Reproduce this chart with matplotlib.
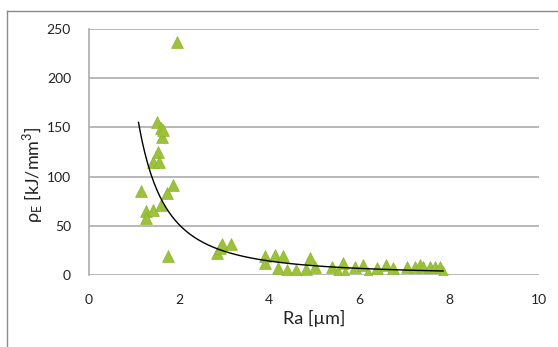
import numpy as np
import matplotlib
matplotlib.use("Agg")
import matplotlib.pyplot as plt
from matplotlib.lines import Line2D

ra = [1.15, 1.27, 1.27, 1.43, 1.43, 1.50, 1.53, 1.56, 1.59, 1.61, 1.63, 1.64, 1.73, 1.75, 1.86, 1.96,
      2.84, 2.90, 2.95, 3.16,
      3.91, 3.91, 4.13, 4.21, 4.30, 4.39, 4.61, 4.82, 4.91, 5.02,
      5.39, 5.54, 5.65, 5.69, 5.90, 6.08, 6.20, 6.39, 6.61, 6.76, 7.06, 7.24, 7.36, 7.43, 7.58, 7.69, 7.80, 7.87]
rho = [85, 65, 58, 66, 115, 155, 125, 115, 71, 149, 140, 147, 83, 19, 91, 237,
       22, 27, 32, 32,
       19, 12, 20, 7, 19, 5, 5, 6, 17, 8,
       8, 3, 12, 2, 8, 10, 2, 7, 10, 7, 8, 8, 10, 8, 8, 8, 8, 3]

trend_a = 185.0
trend_b = -1.85
trend_x_range = (1.10, 7.87)

xticks = [0, 2, 4, 6, 8, 10]
yticks = [0, 50, 100, 150, 200, 250]

plt.rcParams['font.family'] = ['Lato', 'DejaVu Sans']

W, H = 558, 347
fig = plt.figure(figsize=(W / 100, H / 100), dpi=100)
ax = fig.add_axes([89 / W, 1 - 275 / H, (539 - 89) / W, (275 - 29) / H])

ax.scatter(ra, rho, marker='^', s=72, color='#9BC23A', edgecolors='#8DB42E', linewidths=0.5, zorder=3)

xt = np.linspace(trend_x_range[0], trend_x_range[1], 200)
ax.plot(xt, trend_a * xt ** trend_b, color='black', lw=1.0, zorder=4)

ax.set_xlim(0, 10)
ax.set_ylim(0, 250)
ax.set_xticks(xticks)
ax.set_yticks(yticks)
ax.tick_params(length=0, labelsize=10, colors='#222222')
ax.tick_params(axis='y', pad=13)
ax.tick_params(axis='x', pad=14)
ax.yaxis.grid(True, color='#ABABAB', lw=1.2)
ax.set_axisbelow(True)
for s in ['top', 'right', 'bottom']:
    ax.spines[s].set_visible(False)
ax.spines['left'].set_color('#ABABAB')
ax.spines['left'].set_linewidth(1.2)

fig.text(314 / W, 1 - 318 / H, 'Ra [µm]', ha='center', va='center', fontsize=13, color='#222222')
fig.text(33 / W, 1 - 175 / H, r'ρ$_\mathregular{E}$ [kJ/mm$^\mathregular{3}$]', ha='center', va='center',
         rotation=90, fontsize=13, color='#222222')

fig.add_artist(Line2D([7 / W, 7 / W], [0, 1 - 11 / H], color='#8A8A8A', lw=1.0, transform=fig.transFigure))
fig.add_artist(Line2D([7 / W, 1], [1 - 11 / H, 1 - 11 / H], color='#8A8A8A', lw=1.0, transform=fig.transFigure))

fig.savefig('out.png', dpi=100)
